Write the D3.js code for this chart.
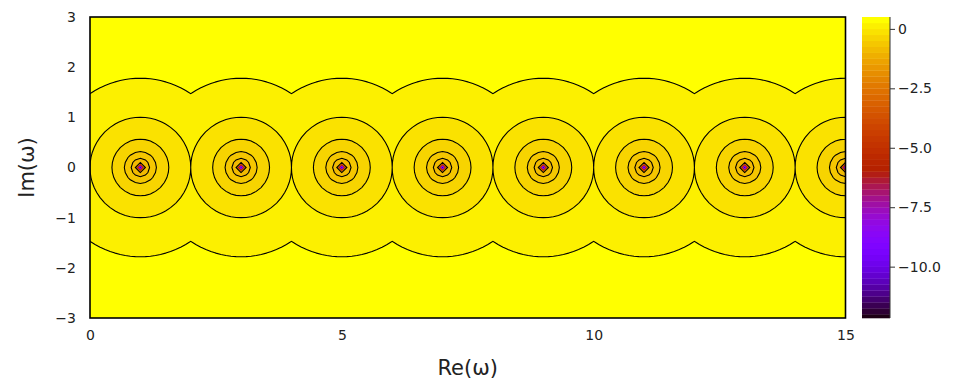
<!DOCTYPE html>
<html>
<head>
<meta charset="utf-8">
<script src="https://cdn.jsdelivr.net/npm/d3@7"></script>
<style>
  body { margin: 0; background: #fff; }
  text { font-family: "DejaVu Sans", sans-serif; fill: #222; }
</style>
</head>
<body>
<svg id="chart"></svg>
<script>
var poles = [1, 3, 5, 7, 9, 11, 13, 15];

// colour range of the colour bar
var colorRange = [-12.16, 0.5];

// contour level spacing
var levelStep = 0.25;

// tick values and labels
var xTicks = [0, 5, 10, 15];
var yTicks = [-3, -2, -1, 0, 1, 2, 3];
var cbTicks = [0, -2.5, -5, -7.5, -10];
var cbLabels = ["0", "\u22122.5", "\u22125.0", "\u22127.5", "\u221210.0"];

var xDomain = [0, 15];
var yDomain = [-3, 3];

// sizes
var size = { width: 960, height: 383 };
var plot = { left: 90, right: 845.5, top: 17, bottom: 318 };
var cb = { left: 862, right: 890, top: 17, bottom: 318 };

var svg = d3.select("#chart")
  .attr("width", size.width)
  .attr("height", size.height);

var x = d3.scaleLinear().domain(xDomain).range([plot.left, plot.right]);
var y = d3.scaleLinear().domain(yDomain).range([plot.bottom, plot.top]);

// gnuplot colour map
function gnuplot(t) {
  t = Math.max(0, Math.min(1, t));
  var r = Math.sqrt(t), g = t * t * t, b = Math.max(0, Math.sin(2 * Math.PI * t));
  return d3.rgb(r * 255, g * 255, b * 255).toString();
}
var color = d3.scaleLinear().domain(colorRange).range([0, 1]).clamp(true);

// grid of log10 distance to the nearest pole
var step = 0.1;
var nx = Math.round((xDomain[1] - xDomain[0]) / step) + 1;
var ny = Math.round((yDomain[1] - yDomain[0]) / step) + 1;
var values = new Array(nx * ny);
for (var j = 0; j < ny; j++) {
  var yy = yDomain[1] - j * step;
  for (var i = 0; i < nx; i++) {
    var xx = xDomain[0] + i * step;
    var d = d3.min(poles, function(p) { return Math.hypot(xx - p, yy); });
    values[j * nx + i] = Math.max(Math.log10(d), colorRange[0]);
  }
}

var levels = [colorRange[0]].concat(d3.range(-12, colorRange[1], levelStep));
function upper(k) { return k + 1 < levels.length ? levels[k + 1] : colorRange[1]; }

var contours = d3.contours().size([nx, ny]).thresholds(levels)(values);

// grid coords -> screen
var gx = d3.scaleLinear().domain([0.5, nx - 0.5]).range([x(xDomain[0]), x(xDomain[1])]);
var gy = d3.scaleLinear().domain([0.5, ny - 0.5]).range([y(yDomain[1]), y(yDomain[0])]);
var path = d3.geoPath(d3.geoTransform({
  point: function(px, py) { this.stream.point(gx(px), gy(py)); }
}));

svg.append("clipPath").attr("id", "clip")
  .append("rect")
    .attr("x", plot.left).attr("y", plot.top)
    .attr("width", plot.right - plot.left).attr("height", plot.bottom - plot.top);

var g = svg.append("g").attr("clip-path", "url(#clip)");

g.selectAll("path.fill")
  .data(contours)
  .enter().append("path")
    .attr("class", "fill")
    .attr("d", path)
    .attr("fill", function(c, k) { return gnuplot(color(upper(k))); })
    .attr("stroke", "none");

g.selectAll("path.line")
  .data(contours.filter(function(c) { return c.value >= -1; }))
  .enter().append("path")
    .attr("class", "line")
    .attr("d", path)
    .attr("fill", "none")
    .attr("stroke", "#000")
    .attr("stroke-width", 1.1);

// frame
svg.append("rect")
  .attr("x", plot.left).attr("y", plot.top)
  .attr("width", plot.right - plot.left).attr("height", plot.bottom - plot.top)
  .attr("fill", "none").attr("stroke", "#000").attr("stroke-width", 1.6);

// axes
var xAxis = d3.axisBottom(x).tickValues(xTicks).tickSize(0).tickPadding(12).tickFormat(d3.format("d"));
var yAxis = d3.axisLeft(y).tickValues(yTicks).tickSize(0).tickPadding(14)
  .tickFormat(function(d) { return d < 0 ? "\u2212" + (-d) : d; });

svg.append("g")
  .attr("class", "x axis")
  .attr("transform", "translate(0," + plot.bottom + ")")
  .call(xAxis)
  .call(function(s) { s.select(".domain").remove(); })
  .selectAll("text").style("font-size", "14px").style("fill", "#222");

svg.append("g")
  .attr("class", "y axis")
  .attr("transform", "translate(" + plot.left + ",0)")
  .call(yAxis)
  .call(function(s) { s.select(".domain").remove(); })
  .selectAll("text").style("font-size", "14px").style("fill", "#222");

svg.append("text")
  .attr("x", (plot.left + plot.right) / 2)
  .attr("y", 375)
  .attr("text-anchor", "middle")
  .style("font-size", "21px")
  .text("Re(\u03c9)");

svg.append("text")
  .attr("transform", "translate(34," + ((plot.top + plot.bottom) / 2) + ") rotate(-90)")
  .attr("text-anchor", "middle")
  .style("font-size", "21px")
  .text("Im(\u03c9)");

// colour bar
var cy = d3.scaleLinear().domain(colorRange).range([cb.bottom, cb.top]);
var bands = levels.map(function(l, k) { return { lo: l, hi: upper(k) }; });

svg.append("g").selectAll("rect")
  .data(bands)
  .enter().append("rect")
    .attr("x", cb.left)
    .attr("width", cb.right - cb.left)
    .attr("y", function(b) { return cy(b.hi); })
    .attr("height", function(b) { return cy(b.lo) - cy(b.hi) + 0.3; })
    .attr("fill", function(b) { return gnuplot(color(b.hi)); });

var cbAxis = d3.axisRight(cy).tickValues(cbTicks).tickSize(5).tickPadding(3)
  .tickFormat(function(d, i) { return cbLabels[i]; });

svg.append("g")
  .attr("class", "cb axis")
  .attr("transform", "translate(" + cb.right + ",0)")
  .call(cbAxis)
  .call(function(s) {
    s.select(".domain").attr("stroke", "#333").attr("d", "M0," + cb.top + "V" + cb.bottom);
    s.selectAll("line").attr("stroke", "#333");
  })
  .selectAll("text").style("font-size", "14px").style("fill", "#222");
</script>
</body>
</html>
